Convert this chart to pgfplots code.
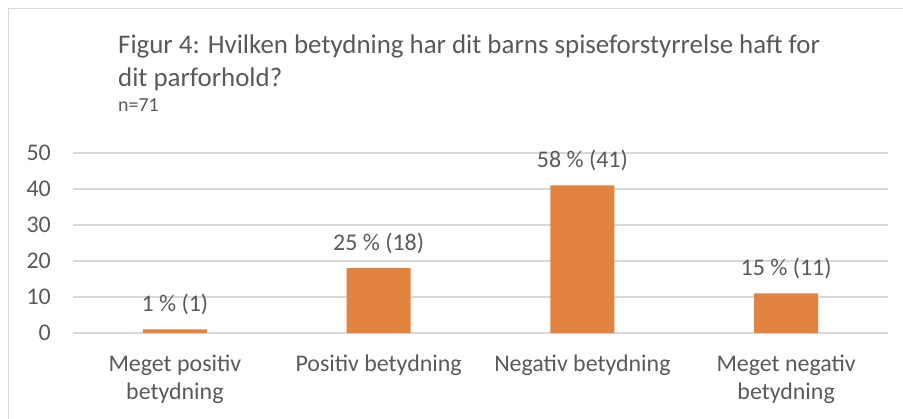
\documentclass[border=0pt]{standalone}
\usepackage{pgfplots}
\pgfplotsset{compat=1.18}
\usepackage{fontspec}
\setmainfont{Carlito}
\definecolor{txt}{HTML}{595959}
\definecolor{gridc}{HTML}{D9D9D9}
\definecolor{barc}{HTML}{E2843F}
\definecolor{framec}{HTML}{D9D9D9}
\begin{document}
\begin{tikzpicture}
\path[use as bounding box] (0,0) rectangle (903bp,419bp);
\draw[framec, line width=1.5bp] (8.5bp,-5bp) -- (8.5bp,410.5bp) -- (910bp,410.5bp);
\node[anchor=base west, text=txt, font=\fontsize{27}{33}\selectfont, inner sep=0pt] at (118bp,365bp) {Figur 4: Hvilken betydning har dit barns spiseforstyrrelse haft for};
\node[anchor=base west, text=txt, font=\fontsize{27}{33}\selectfont, inner sep=0pt] at (118bp,332bp) {dit parforhold?};
\node[anchor=base west, text=txt, font=\fontsize{20}{24}\selectfont, inner sep=0pt] at (118bp,307bp) {n=71};
\begin{axis}[
  at={(73bp,86bp)}, anchor=south west,
  scale only axis, width=815bp, height=180bp,
  xmin=-0.5, xmax=3.5, ymin=0, ymax=50,
  axis line style={draw=none},
  ytick={0,10,20,30,40,50},
  xtick={0,1,2,3},
  xticklabels={{Meget positiv\\betydning},{Positiv betydning},{Negativ betydning},{Meget negativ\\betydning}},
  ymajorgrids, grid style={gridc, line width=1.2bp},
  major tick length=0pt,
  tick label style={text=txt, font=\fontsize{24}{28}\selectfont, inner sep=0pt},
  yticklabel style={anchor=east, xshift=-22bp},
  xticklabel style={align=center, anchor=north, yshift=-22bp},
  /pgf/number format/assume math mode=true,
  clip=false,
]
\addplot[ybar, bar width=64bp, fill=barc, draw=none,
  nodes near coords,
  point meta=explicit symbolic,
  every node near coord/.append style={text=txt, font=\fontsize{24}{28}\selectfont, inner sep=0pt, anchor=base, yshift=18bp}]
  table[meta=lab, col sep=comma] {
x,y,lab
0,1,1 \% (1)
1,18,25 \% (18)
2,41,58 \% (41)
3,11,15 \% (11)
};
\end{axis}
\end{tikzpicture}
\end{document}
